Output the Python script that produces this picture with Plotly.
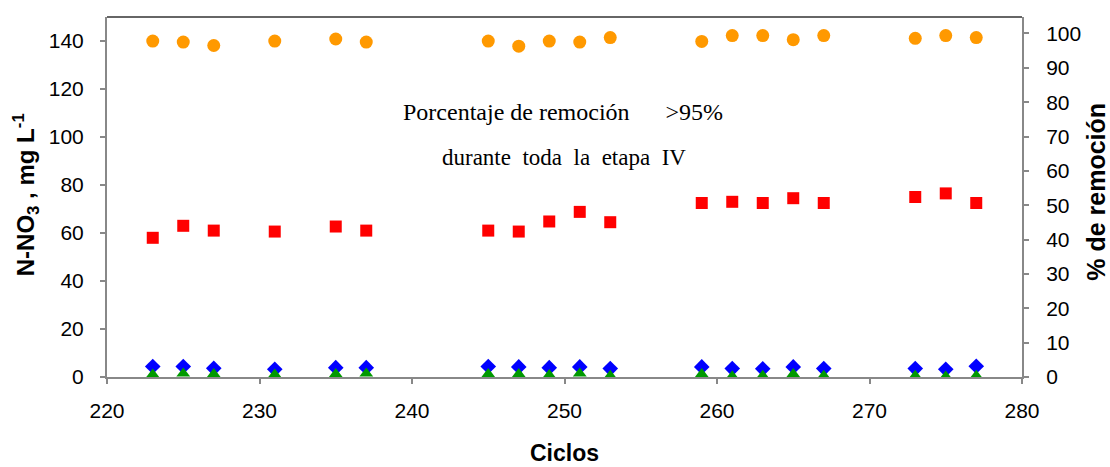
import plotly.graph_objects as go

ciclos = [223, 225, 227, 231, 235, 237, 245, 247, 249, 251, 253, 259, 261, 263, 265, 267, 273, 275, 277]
remocion = [97.8, 97.5, 96.5, 97.8, 98.4, 97.5, 97.8, 96.3, 97.8, 97.5, 98.8, 97.7, 99.4, 99.4, 98.2, 99.4, 98.6, 99.4, 98.8]
no3_entrada = [58, 63, 61, 60.6, 62.7, 61, 61, 60.6, 64.8, 68.8, 64.5, 72.5, 73, 72.5, 74.5, 72.5, 75, 76.5, 72.5]
no3_azul = [4.4, 4.4, 3.6, 3.2, 3.9, 3.9, 4.4, 4.2, 3.9, 4.2, 3.5, 4.2, 3.5, 3.4, 4.2, 3.5, 3.5, 3.2, 4.5]
no3_verde = [1.0, 1.5, 1.2, 1.0, 1.2, 1.5, 1.2, 1.2, 0.8, 1.5, 0.5, 1.2, 0.3, 0.5, 1.2, 0.5, 0.5, 0.2, 0.5]

left_ticks = [0, 20, 40, 60, 80, 100, 120, 140]
right_ticks = [0, 10, 20, 30, 40, 50, 60, 70, 80, 90, 100]
x_ticks = [220, 230, 240, 250, 260, 270, 280]

fig = go.Figure()
fig.add_trace(go.Scatter(x=ciclos, y=no3_entrada, mode="markers",
                         marker=dict(symbol="square", size=12, color="#FF0000"), yaxis="y"))
fig.add_trace(go.Scatter(x=ciclos, y=no3_azul, mode="markers",
                         marker=dict(symbol="diamond", size=12, color="#0000FF"), yaxis="y"))
fig.add_trace(go.Scatter(x=ciclos, y=no3_verde, mode="markers",
                         marker=dict(symbol="triangle-up", size=12, color="#009900"), yaxis="y"))
fig.add_trace(go.Scatter(x=ciclos, y=remocion, mode="markers",
                         marker=dict(symbol="circle", size=13, color="#FF9900"), yaxis="y2"))

axis_color = "#888888"
sans = "Liberation Sans, Arial"
tick_font = dict(family=sans, size=21, color="black")
common = dict(ticks="outside", ticklen=5, tickcolor=axis_color, tickwidth=1.5,
              showline=True, linecolor=axis_color, linewidth=2, showgrid=False,
              zeroline=False, tickfont=tick_font)

fig.update_layout(
    width=1110, height=467,
    margin=dict(l=107, r=88, t=17, b=90, autoexpand=False),
    paper_bgcolor="white", plot_bgcolor="white",
    showlegend=False,
    xaxis=dict(range=[220, 280], tickvals=x_ticks, ticklabelstandoff=9, **common),
    yaxis=dict(range=[0, 150], tickvals=left_ticks, ticklabelstandoff=12, **common),
    yaxis2=dict(range=[0, 104.8], tickvals=right_ticks, ticklabelstandoff=13,
                overlaying="y", side="right", **common),
)

fig.add_shape(type="line", xref="paper", yref="paper", x0=0, x1=1, y0=1, y1=1,
              line=dict(color="#333333", width=1.5))

title_font = dict(family=sans, size=23, color="black")
fig.add_annotation(text="<b>Ciclos</b>", x=0.5003, y=-0.212, xref="paper", yref="paper",
                   xanchor="center", yanchor="middle", showarrow=False, font=title_font)
fig.add_annotation(text="<b>N-NO<sub>3</sub> , mg L<sup>-1</sup></b>", x=-0.0885, y=0.505,
                   xref="paper", yref="paper", xanchor="center", yanchor="middle",
                   textangle=-90, showarrow=False, font=dict(family=sans, size=24, color="black"))
fig.add_annotation(text="<b>% de remoción</b>", x=1.0814, y=0.516,
                   xref="paper", yref="paper", xanchor="center", yanchor="middle",
                   textangle=-90, showarrow=False, font=dict(family=sans, size=25, color="black"))

fig.add_annotation(text="Porcentaje de remoción &nbsp;&nbsp;&nbsp;&nbsp;&nbsp;>95%", x=0.4986, y=0.736,
                   xref="paper", yref="paper", xanchor="center", yanchor="middle", showarrow=False,
                   font=dict(family="Liberation Serif, Times New Roman", size=24, color="black"))
fig.add_annotation(text="durante&nbsp; toda&nbsp; la&nbsp; etapa&nbsp; IV", x=0.4992, y=0.611,
                   xref="paper", yref="paper", xanchor="center", yanchor="middle", showarrow=False,
                   font=dict(family="Liberation Serif, Times New Roman", size=23, color="black"))

fig.write_html("out.html", config={"displayModeBar": False},
               post_script="document.body.style.margin='0px';")
